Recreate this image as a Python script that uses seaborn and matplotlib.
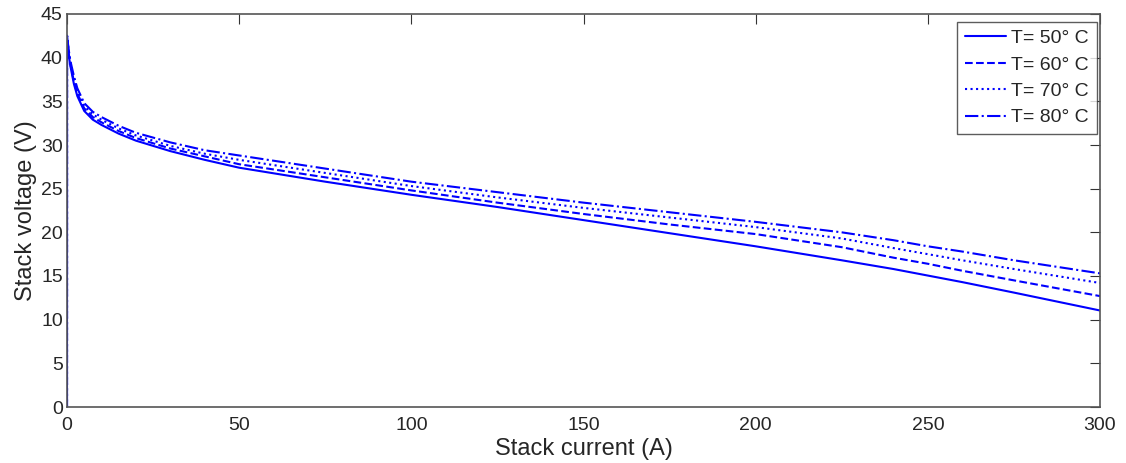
import matplotlib
matplotlib.use("Agg")
import matplotlib.pyplot as plt
import seaborn as sns
import pandas as pd
import numpy as np

# stack current (A) and stack voltage (V)
current = [0, 0.01, 0.5, 1, 2, 3, 5, 7.5, 10, 15, 20, 30, 40, 50, 75, 100,
           125, 150, 175, 200, 225, 240, 250, 260, 275, 300]
v_50 = [0, 42.5, 40.3, 39.0, 37.0, 35.6, 33.9, 32.9, 32.3, 31.3, 30.5, 29.3, 28.3,
        27.4, 25.8, 24.3, 22.9, 21.4, 19.9, 18.4, 16.8, 15.8, 15.05, 14.3, 13.1, 11.05]
v_60 = [0, 42.5, 40.5, 39.2, 37.3, 35.9, 34.2, 33.2, 32.6, 31.6, 30.8, 29.6, 28.7,
        27.8, 26.3, 24.8, 23.4, 22.1, 20.9, 19.8, 18.3, 17.1, 16.4, 15.6, 14.5, 12.7]
v_70 = [0, 42.5, 40.7, 39.4, 37.6, 36.2, 34.5, 33.5, 32.9, 31.9, 31.1, 29.9, 29.0,
        28.3, 26.8, 25.3, 24.0, 22.8, 21.7, 20.6, 19.3, 18.2, 17.5, 16.8, 15.8, 14.2]
v_80 = [0, 42.5, 40.9, 39.6, 37.9, 36.5, 34.8, 33.8, 33.2, 32.2, 31.4, 30.3, 29.4,
        28.8, 27.3, 25.8, 24.6, 23.4, 22.3, 21.2, 20.0, 19.1, 18.4, 17.8, 16.8, 15.3]
labels = ["T= 50\u00b0 C", "T= 60\u00b0 C", "T= 70\u00b0 C", "T= 80\u00b0 C"]
styles = ["-", "--", ":", "-."]

sns.set_style("white")
plt.rcParams['font.family'] = ['Liberation Sans', 'DejaVu Sans']

fig = plt.figure(figsize=(11.26, 4.63), dpi=100)
ax = fig.add_axes([67 / 1126, 1 - 407 / 463, (1100 - 67) / 1126, (407 - 14) / 463])

for v, lab, ls in zip([v_50, v_60, v_70, v_80], labels, styles):
    df = pd.DataFrame({'I': current, 'V': v})
    sns.lineplot(data=df, x='I', y='V', ax=ax, color='#0000ff', linestyle=ls,
                 linewidth=1.5, label=lab, sort=False)

ax.set_xlim(0, 300)
ax.set_ylim(0, 45)
ax.set_xticks(np.arange(0, 301, 50))
ax.set_yticks(np.arange(0, 46, 5))
ax.set_xlabel("Stack current (A)", fontsize=17, labelpad=3)
ax.set_ylabel("Stack voltage (V)", fontsize=17, labelpad=3)
ax.tick_params(direction='in', length=7.5, top=True, right=True, labelsize=14,
               color='#333333')
ax.tick_params(axis='x', pad=7)
ax.tick_params(axis='y', pad=3)
for s in ax.spines.values():
    s.set_color('#555555')
    s.set_linewidth(1.2)

leg = ax.legend(loc='upper right', bbox_to_anchor=(0.997, 0.98), borderaxespad=0,
                fontsize=14, frameon=True, fancybox=False, edgecolor='#333333',
                handlelength=2.1, labelspacing=0.45, borderpad=0.4,
                handletextpad=0.3)
leg.get_frame().set_linewidth(1.0)

fig.savefig("out.png", dpi=100)
